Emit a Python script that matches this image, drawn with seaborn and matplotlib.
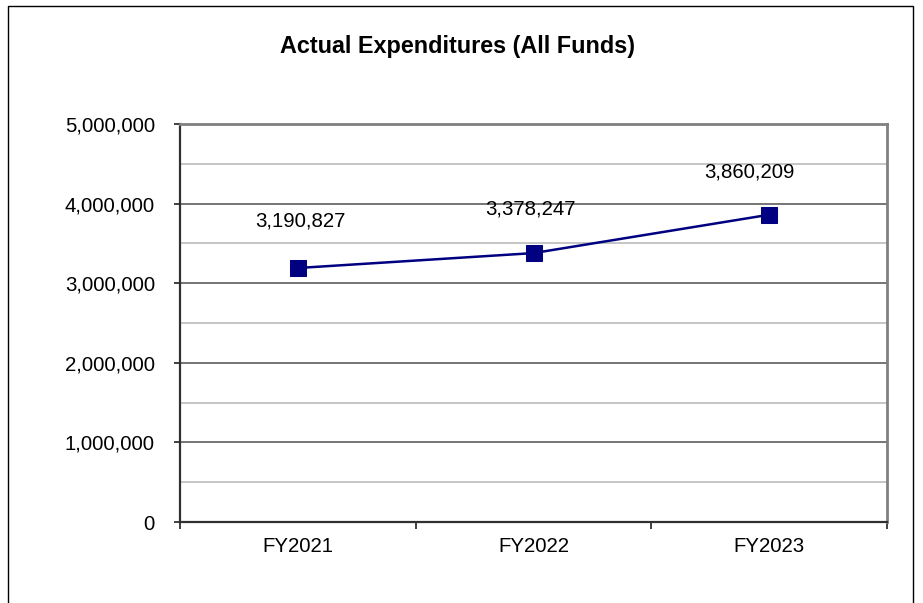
import matplotlib
matplotlib.use("Agg")
import matplotlib.pyplot as plt
from matplotlib.patches import Rectangle
from matplotlib.ticker import MultipleLocator, FuncFormatter
import seaborn as sns
import pandas as pd

# Expenditure data
years = ["FY2021", "FY2022", "FY2023"]
expenditures = [3190827, 3378247, 3860209]

# Value label nudges (points) relative to each marker
label_dx = [2, -2, -14]
label_dy = [34, 32, 31]

sns.set_theme(style="white")
plt.rcParams["font.family"] = ["Liberation Sans", "DejaVu Sans"]

df = pd.DataFrame({"year": years, "amount": expenditures})

fig = plt.figure(figsize=(9.23, 6.03), dpi=100)
fig.patch.set_facecolor("white")
ax = fig.add_axes([180 / 923, 81 / 603, 707 / 923, 398 / 603])

sns.lineplot(data=df, x="year", y="amount", ax=ax, color="#000080",
             linewidth=1.8, marker="s", markersize=11,
             markeredgecolor="#000080", markerfacecolor="#000080",
             sort=False, zorder=5)

ax.set_xlim(-0.5, len(years) - 0.5)
ax.set_ylim(0, 5_000_000)
ax.set_xlabel("")
ax.set_ylabel("")

# Y axis: major gridlines every million, lighter minor lines halfway
ax.yaxis.set_major_locator(MultipleLocator(1_000_000))
ax.yaxis.set_minor_locator(MultipleLocator(500_000))
ax.yaxis.set_major_formatter(FuncFormatter(lambda v, p: f"{int(v):,}"))
ax.grid(axis="y", which="major", color="#6a6a6a", linewidth=1.3, zorder=1)
ax.grid(axis="y", which="minor", color="#c0c0c0", linewidth=1.3, zorder=1)
ax.grid(axis="x", visible=False)
ax.tick_params(axis="y", which="major", length=4.5, width=1.2,
               color="#202020", direction="out", pad=13.5,
               labelsize=14.7, labelcolor="black", left=True)
ax.tick_params(axis="y", which="minor", length=0)

# X axis: labels centred on categories, tick marks between categories
ax.set_xticks(range(len(years)))
ax.set_xticklabels(years)
ax.set_xticks([i - 0.5 for i in range(len(years) + 1)], minor=True)
ax.tick_params(axis="x", which="major", length=0, pad=11,
               labelsize=14.7, labelcolor="black")
ax.tick_params(axis="x", which="minor", length=5, width=1.2,
               color="#202020", direction="out", bottom=True)

for side in ("left", "bottom"):
    ax.spines[side].set_color("#303030")
    ax.spines[side].set_linewidth(1.6)
for side in ("top", "right"):
    ax.spines[side].set_color("#808080")
    ax.spines[side].set_linewidth(2.0)
ax.set_axisbelow(True)

for i, v in enumerate(expenditures):
    ax.annotate(f"{v:,}", xy=(i, v), xytext=(label_dx[i], label_dy[i]),
                textcoords="offset points", ha="center", va="center",
                fontsize=14.7, color="black", zorder=6)

fig.text(0.5 * (281 + 635) / 923, 1 - 47 / 603,
         "Actual Expenditures (All Funds)", ha="center", va="center",
         fontsize=16.8, fontweight="bold", color="black")

# Outer chart frame
fig.patches.append(Rectangle((8 / 923, -0.2), (913 - 8) / 923, 1.2 - 6 / 603,
                             transform=fig.transFigure, fill=False,
                             edgecolor="black", linewidth=1.0))

fig.savefig("out.png", dpi=100, facecolor="white")
